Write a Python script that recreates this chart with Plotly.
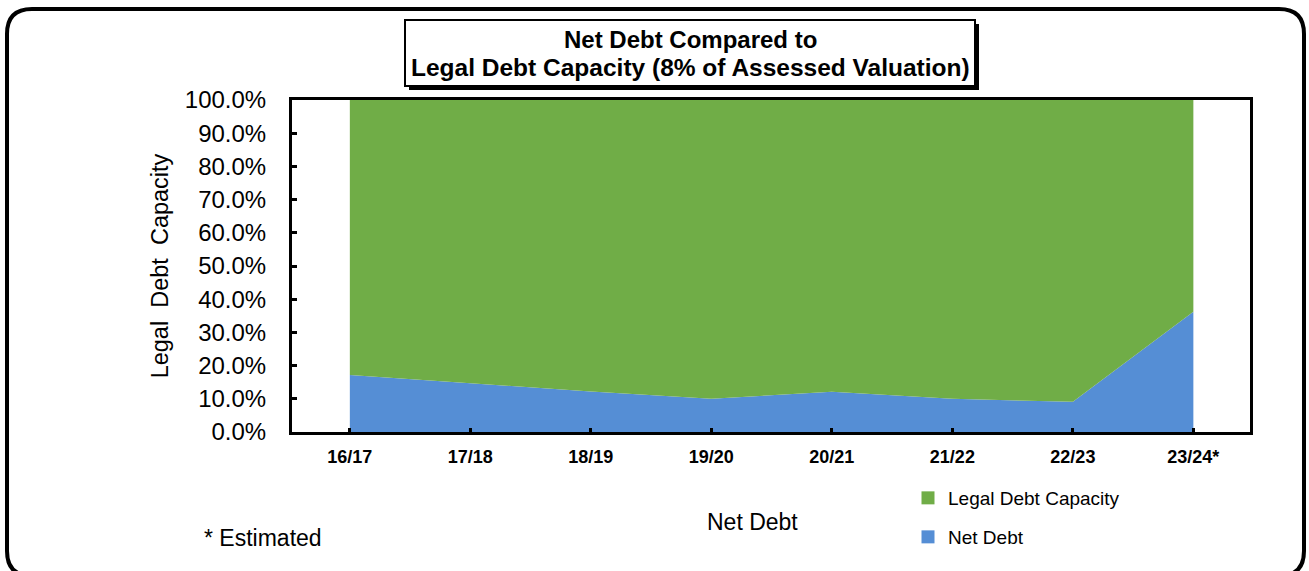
import plotly.graph_objects as go

# Fiscal years and debt shares (percent of legal debt limit)
years = ["16/17", "17/18", "18/19", "19/20", "20/21", "21/22", "22/23", "23/24*"]
net_debt = [17.2, 14.7, 12.2, 10.0, 12.1, 10.0, 9.1, 36.2]
legal_capacity = [82.8, 85.3, 87.8, 90.0, 87.9, 90.0, 90.9, 63.8]
y_ticks = [0, 10, 20, 30, 40, 50, 60, 70, 80, 90, 100]
y_tick_labels = ["0.0%", "10.0%", "20.0%", "30.0%", "40.0%", "50.0%",
                 "60.0%", "70.0%", "80.0%", "90.0%", "100.0%"]

GREEN = "#70AD47"
BLUE = "#558ED5"
FONT = "Arial, Liberation Sans, sans-serif"

W, H = 1309, 571
L, R, T, B = 292, 1250, 100, 432  # plot area edges in pixels


def px(x):
    return (x - L) / (R - L)


def py(y):
    return (B - y) / (B - T)


fig = go.Figure()

fig.add_trace(go.Scatter(
    x=years, y=net_debt, name="Net Debt", stackgroup="one",
    mode="none", fillcolor=BLUE, line=dict(width=0), showlegend=False,
))
fig.add_trace(go.Scatter(
    x=years, y=legal_capacity, name="Legal Debt Capacity", stackgroup="one",
    mode="none", fillcolor=GREEN, line=dict(width=0), showlegend=False,
))

# Legend entries with square swatches
fig.add_trace(go.Scatter(
    x=[None], y=[None], mode="markers", name="Legal Debt Capacity",
    marker=dict(symbol="square", size=13, color=GREEN), legend="legend",
))
fig.add_trace(go.Scatter(
    x=[None], y=[None], mode="markers", name="Net Debt",
    marker=dict(symbol="square", size=13, color=BLUE), legend="legend2",
))

# Rounded outer frame
x0, x1, y0, y1, r = 7, 1304, 9, 576, 25
path = (
    f"M {px(x0 + r)},{py(y0)} L {px(x1 - r)},{py(y0)} "
    f"Q {px(x1)},{py(y0)} {px(x1)},{py(y0 + r)} "
    f"L {px(x1)},{py(y1 - r)} Q {px(x1)},{py(y1)} {px(x1 - r)},{py(y1)} "
    f"L {px(x0 + r)},{py(y1)} Q {px(x0)},{py(y1)} {px(x0)},{py(y1 - r)} "
    f"L {px(x0)},{py(y0 + r)} Q {px(x0)},{py(y0)} {px(x0 + r)},{py(y0)} Z"
)
shapes = [
    dict(type="path", xref="paper", yref="paper", path=path,
         line=dict(color="black", width=4), layer="above"),
    # title box shadow and box
    dict(type="rect", xref="paper", yref="paper",
         x0=px(409), x1=px(979), y0=py(24), y1=py(90),
         fillcolor="black", line=dict(width=0), layer="above"),
    dict(type="rect", xref="paper", yref="paper",
         x0=px(405), x1=px(975), y0=py(20), y1=py(86),
         fillcolor="white", line=dict(color="black", width=2), layer="above"),
]

annotations = [
    dict(text="<b>Net Debt Compared to</b>", x=px(690), y=py(40),
         xref="paper", yref="paper", showarrow=False,
         xanchor="center", yanchor="middle",
         font=dict(family=FONT, size=24, color="black")),
    dict(text="<b>Legal Debt Capacity (8% of Assessed Valuation)</b>",
         x=px(690), y=py(68), xref="paper", yref="paper", showarrow=False,
         xanchor="center", yanchor="middle",
         font=dict(family=FONT, size=24.5, color="black")),
    dict(text="Net Debt", x=px(752), y=py(522), xref="paper", yref="paper",
         showarrow=False, xanchor="center", yanchor="middle",
         font=dict(family=FONT, size=23, color="black")),
    dict(text="* Estimated", x=px(202), y=py(538), xref="paper", yref="paper",
         showarrow=False, xanchor="left", yanchor="middle",
         font=dict(family=FONT, size=23, color="black")),
]

fig.update_layout(
    width=W, height=H, autosize=False,
    margin=dict(l=L, r=W - R, t=T, b=H - B, pad=0),
    paper_bgcolor="white", plot_bgcolor="rgba(0,0,0,0)",
    font=dict(family=FONT, color="black"),
    shapes=shapes, annotations=annotations,
    legend=dict(x=px(908), y=py(498), xanchor="left", yanchor="middle",
                bgcolor="rgba(0,0,0,0)", font=dict(family=FONT, size=19),
                itemwidth=30),
    legend2=dict(x=px(908), y=py(537), xanchor="left", yanchor="middle",
                 bgcolor="rgba(0,0,0,0)", font=dict(family=FONT, size=19),
                 itemwidth=30),
    xaxis=dict(
        type="category", range=[-0.48, 7.47],
        showline=True, linecolor="black", linewidth=3, mirror=True,
        ticks="inside", ticklen=4, tickwidth=3, tickcolor="black",
        showgrid=False, zeroline=False,
        tickfont=dict(family=FONT, size=18, color="black", weight="bold"),
        ticklabelstandoff=6,
    ),
    yaxis=dict(
        range=[0, 100], tickmode="array", tickvals=y_ticks,
        ticktext=y_tick_labels,
        showline=True, linecolor="black", linewidth=3, mirror=True,
        ticks="inside", ticklen=5, tickwidth=3, tickcolor="black",
        showgrid=False, zeroline=False,
        tickfont=dict(family=FONT, size=24, color="black"),
        ticklabelstandoff=18,
        title=dict(text="Legal  Debt  Capacity", standoff=10,
                   font=dict(family=FONT, size=23.5, color="black")),
    ),
)

fig.write_html("out.html")
